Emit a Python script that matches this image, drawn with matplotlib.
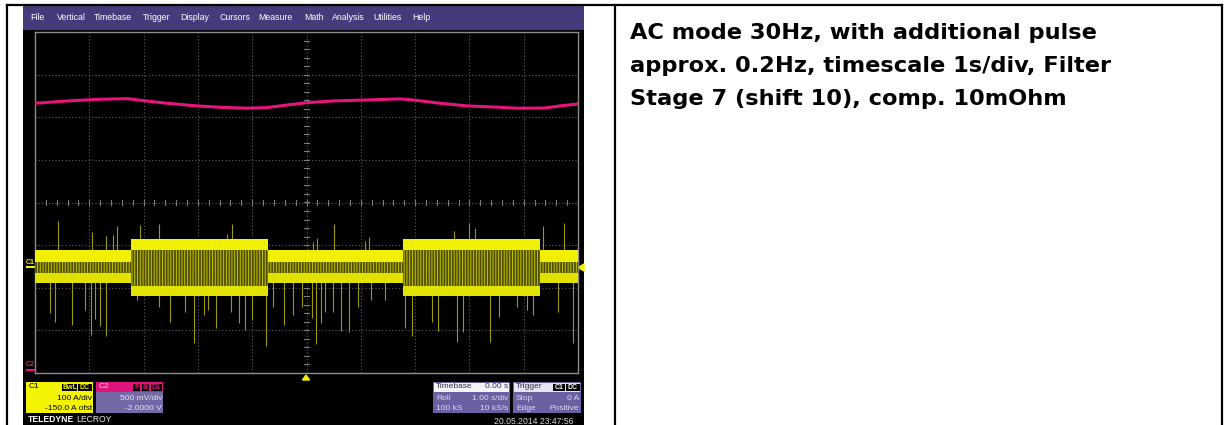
import numpy as np
import matplotlib.pyplot as plt
from matplotlib.patches import Rectangle, Polygon

# channel settings (scale per division, offset)
c1_scale, c1_ofst = 100.0, -150.0     # A/div, A
c2_scale, c2_ofst = 0.5, -2.0         # V/div, V

# C2: supply voltage (V) vs time (s)
t_c2 = [-5.0, -4.41, -3.80, -3.29, -3.01, -2.57, -2.02, -1.59, -1.10, -0.73, -0.30, 0.0,
        0.49, 1.11, 1.72, 1.96, 2.46, 2.96, 3.56, 3.88, 4.39, 4.67, 5.0]
v_c2 = [3.164, 3.191, 3.211, 3.218, 3.195, 3.164, 3.133, 3.117, 3.106, 3.113, 3.148, 3.171,
        3.191, 3.203, 3.215, 3.203, 3.164, 3.133, 3.117, 3.106, 3.108, 3.133, 3.156]

# C1: 30 Hz current, pulse on/off segments (s)
seg_edges = [-5.0, -3.23, -0.71, 1.78, 4.30, 5.0]
seg_pulse = [0, 1, 0, 1, 0]
# envelope levels (A): top band hi/lo, bottom band hi/lo
band_low = [38.7, 10.5, -15.3, -39.0]
band_high = [64.5, 38.7, -45.8, -69.3]

# single glitches on C1 (time s, peak A)
up_t = [-4.58, -3.95, -3.69, -3.56, -3.49, -3.07, -2.72, -1.47, -1.38, 0.12, 0.19, 0.51,
        1.08, 1.15, 2.72, 3.00, 3.10, 4.35, 4.74]
up_a = [106.7, 80.9, 71.5, 73.9, 95.0, 97.3, 99.7, 76.2, 99.7, 57.4, 66.8, 99.7,
        59.8, 69.2, 83.2, 102.0, 90.3, 95.0, 102.0]
dn_t = [-5.0, -4.72, -4.63, -4.32, -4.08, -3.97, -3.90, -3.80, -3.69, -3.13, -2.72, -2.51,
        -2.24, -2.07, -1.89, -1.81, -1.67, -1.39, -1.24, -1.13, -1.00, -0.75, -0.62, -0.41,
        -0.25, -0.08, 0.10, 0.17, 0.27, 0.34, 0.49, 0.64, 0.78, 0.95, 1.19, 1.45, 1.81,
        1.94, 2.31, 2.42, 2.77, 2.88, 3.38, 3.54, 3.88, 4.06, 4.17, 4.63, 4.90]
dn_a = [-144, -109, -130, -137, -102, -161, -123, -140, -163, -79, -95, -130,
        -107, -180, -114, -102, -144, -107, -133, -149, -126, -187, -95, -137,
        -114, -95, -121, -182, -133, -107, -107, -151, -154, -95, -79, -79, -144,
        -163, -130, -151, -177, -154, -177, -119, -95, -102, -114, -107, -180]


def c1_div(a):
    return (np.asarray(a, dtype=float) + c1_ofst) / c1_scale


def c2_div(v):
    return (np.asarray(v, dtype=float) + c2_ofst) / c2_scale


plt.rcParams['hatch.linewidth'] = 0.7

W, H = 1230, 425
fig = plt.figure(figsize=(W / 100, H / 100), dpi=100)
fig.patch.set_facecolor('white')

# pixel-space layer for table, scope frame and readouts
bg = fig.add_axes([0, 0, 1, 1])
bg.set_xlim(0, W)
bg.set_ylim(H, 0)
bg.axis('off')

UI = 'Liberation Sans'


def rect(x0, y0, x1, y1, color, z=1):
    bg.add_patch(Rectangle((x0, y0), x1 - x0, y1 - y0, facecolor=color,
                           edgecolor='none', zorder=z))


def txt(x, y, s, color, size=6, ha='left', weight='normal', z=5):
    bg.text(x, y, s, color=color, fontsize=size, ha=ha, va='center',
            family=UI, fontweight=weight, zorder=z)


def badge(x0, x1, y0, y1, s, fg):
    rect(x0, y0, x1, y1, 'black', z=4)
    txt((x0 + x1) / 2, (y0 + y1) / 2 + 0.3, s, fg, size=5, ha='center', weight='bold')


# table lines
for x in (7, 615, 1222):
    bg.plot([x, x], [5, H], color='black', lw=1.6, zorder=10)
bg.plot([7, 1222], [5, 5], color='black', lw=1.6, zorder=10)

# scope screen
rect(23, 5, 584, H, 'black')
rect(23, 5, 584, 30, '#463b7a', z=2)
menu = ['File', 'Vertical', 'Timebase', 'Trigger', 'Display', 'Cursors', 'Measure',
        'Math', 'Analysis', 'Utilities', 'Help']
menu_x = [30, 57, 94, 143, 180, 219, 258, 304, 332, 373, 412]
for s, x in zip(menu, menu_x):
    txt(x, 17.5, s, 'white', size=6.3)

# channel markers
txt(26, 262, 'C1', '#f0f000', size=5, weight='bold')
bg.plot([27, 34], [267, 267], color='#f0f000', lw=1.5)
txt(26, 365, 'C2', '#e8147c', size=5, weight='bold')
bg.plot([27, 34], [370, 370], color='#e8147c', lw=1.5)
bg.add_patch(Polygon([[578, 267.5], [584, 264], [584, 271]], color='#f0f000', zorder=5))
bg.add_patch(Polygon([[306, 375], [302.5, 380], [309.5, 380]], color='#f0f000', zorder=5))

# C1 readout
rect(26, 382, 93, 413, '#f4f400', z=2)
txt(29, 387, 'C1', 'black', size=6)
badge(62, 77, 384, 391, 'BwL', '#f4f400')
badge(78, 92, 384, 391, 'DC', '#f4f400')
txt(92, 398.5, '100 A/div', 'black', ha='right')
txt(92, 408.3, '-150.0 A ofst', 'black', ha='right')

# C2 readout
rect(96, 382, 163, 413, '#7568a6', z=2)
rect(96, 382, 163, 392, '#e0157c', z=3)
txt(99, 387, 'C2', '#fbd0e6', size=6)
badge(133, 140, 384, 391, 'F', '#e0157c')
badge(141.5, 149, 384, 391, 'B', '#e0157c')
badge(150.5, 162, 384, 391, 'D1', '#e0157c')
txt(162, 398.5, '500 mV/div', '#e4e0f4', ha='right')
txt(162, 408.3, '-2.0000 V', '#e4e0f4', ha='right')

txt(28, 420, 'TELEDYNE', 'white', size=6.2, weight='bold')
txt(76, 420, 'LECROY', '#e8e8e8', size=6.2)

# timebase / trigger readouts
rect(433, 382, 510, 413, '#6c5fa2', z=2)
rect(434, 383, 509, 391.5, '#f4f4fa', z=3)
txt(436, 387, 'Timebase', '#303040')
txt(508, 387, '0.00 s', '#303040', ha='right')
txt(436, 398.5, 'Roll', '#dcd8f0')
txt(508, 398.5, '1.00 s/div', '#dcd8f0', ha='right')
txt(436, 408.3, '100 kS', '#dcd8f0')
txt(508, 408.3, '10 kS/s', '#dcd8f0', ha='right')

rect(513, 382, 581, 413, '#6c5fa2', z=2)
rect(514, 383, 580, 391.5, '#e6e4f2', z=3)
txt(516, 387, 'Trigger', '#303040')
badge(553, 565, 384, 391, 'C1', 'white')
badge(566, 580, 384, 391, 'DC', 'white')
txt(516, 398.5, 'Stop', '#dcd8f0')
txt(579, 398.5, '0 A', '#dcd8f0', ha='right')
txt(516, 408.3, 'Edge', '#dcd8f0')
txt(579, 408.3, 'Positive', '#dcd8f0', ha='right')

txt(534, 421, '20.05.2014 23:47:56', '#d8d8d8', size=6.2, ha='center')

# description
desc = ['AC mode 30Hz, with additional pulse',
        'approx. 0.2Hz, timescale 1s/div, Filter',
        'Stage 7 (shift 10), comp. 10mOhm']
for i, line in enumerate(desc):
    bg.text(630, 39 + 33 * i, line, fontsize=16.2, fontweight='bold', family='DejaVu Sans',
            color='black', va='baseline', ha='left')

# graticule: 10 x 8 divisions
ax = fig.add_axes([35 / W, (H - 373) / H, 543 / W, 341 / H])
ax.set_facecolor('black')
ax.set_xlim(-5, 5)
ax.set_ylim(-4, 4)
ax.set_xticks([])
ax.set_yticks([])
for sp in ax.spines.values():
    sp.set_color('#8c8c8c')
    sp.set_linewidth(1.0)
for x in range(-4, 5):
    ax.axvline(x, color='#5c5c5c', lw=0.8, ls=(0, (1, 2)), zorder=1)
for y in range(-3, 4):
    ax.axhline(y, color='#5c5c5c', lw=0.8, ls=(0, (1, 2)), zorder=1)
for tx in np.arange(-5, 5.01, 0.2):
    ax.plot([tx, tx], [-0.05, 0.05], color='#7c7c7c', lw=0.8, zorder=1)
for ty in np.arange(-4, 4.01, 0.2):
    ax.plot([-0.037, 0.037], [ty, ty], color='#7c7c7c', lw=0.8, zorder=1)

# C1 glitches
zero = c1_div(0.0)
ax.vlines(up_t, zero, c1_div(up_a), color='#9c9c00', lw=0.8, zorder=2)
ax.vlines(dn_t, zero, c1_div(dn_a), color='#9c9c00', lw=0.8, zorder=2)

# C1 envelope per segment
for t0, t1, p in zip(seg_edges[:-1], seg_edges[1:], seg_pulse):
    hi1, lo1, hi2, lo2 = c1_div(band_high if p else band_low)
    tt = [t0, t1]
    ax.fill_between(tt, lo1, hi2, facecolor='#4e4e00', edgecolor='#c4c400',
                    hatch='||||||', lw=0, zorder=3)
    ax.fill_between(tt, lo1, hi1, color='#f0f000', lw=0, zorder=4)
    ax.fill_between(tt, lo2, hi2, color='#e2e200', lw=0, zorder=4)

# C2 trace
ax.plot(t_c2, c2_div(v_c2), color='#e8147c', lw=2.2, zorder=5)

fig.savefig('out.png', dpi=100, facecolor='white')
